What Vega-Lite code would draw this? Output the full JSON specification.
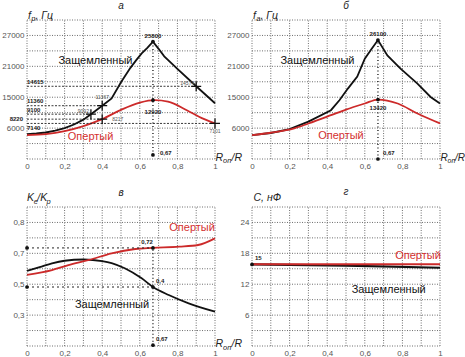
{
"$schema": "https://vega.github.io/schema/vega-lite/v6.json",
"padding": {"left": 1, "top": 1, "right": 0, "bottom": 0},
"config": {
  "font": "Liberation Sans",
  "view": {"stroke": null},
  "axis": {"grid": false, "domain": false, "ticks": false, "labelFont": "Liberation Sans", "labelFontSize": 8, "labelColor": "#555555", "labelOverlap": false, "labelFlush": false, "labelBound": false, "labelPadding": 3},
  "text": {"font": "Liberation Sans"}
},
"columns": 2,
"spacing": {"row": 48, "column": 37},
"bounds": "flush",
"datasets": {
  "one": [{}],
  "gx": [{"v": 0}, {"v": 0.1}, {"v": 0.2}, {"v": 0.3}, {"v": 0.4}, {"v": 0.5}, {"v": 0.6}, {"v": 0.7}, {"v": 0.8}, {"v": 0.9}, {"v": 1}],
  "gya": [{"v": 3000}, {"v": 6000}, {"v": 9000}, {"v": 12000}, {"v": 15000}, {"v": 18000}, {"v": 21000}, {"v": 24000}, {"v": 27000}, {"v": 30000}],
  "gyc": [{"v": 0}, {"v": 0.1}, {"v": 0.2}, {"v": 0.3}, {"v": 0.4}, {"v": 0.5}, {"v": 0.6}, {"v": 0.7}, {"v": 0.8}, {"v": 0.9}],
  "gyd": [{"v": 0}, {"v": 3}, {"v": 6}, {"v": 9}, {"v": 12}, {"v": 15}, {"v": 18}, {"v": 21}, {"v": 24}, {"v": 27}],
  "a_lines": [
    {"x": 0, "y": 7840, "s": "Защемленный"}, {"x": 0.05, "y": 7950, "s": "Защемленный"}, {"x": 0.1, "y": 8150, "s": "Защемленный"}, {"x": 0.15, "y": 8500, "s": "Защемленный"}, {"x": 0.2, "y": 9000, "s": "Защемленный"}, {"x": 0.25, "y": 9700, "s": "Защемленный"}, {"x": 0.3, "y": 10650, "s": "Защемленный"}, {"x": 0.34, "y": 11708, "s": "Защемленный"}, {"x": 0.4, "y": 13352, "s": "Защемленный"}, {"x": 0.45, "y": 14750, "s": "Защемленный"}, {"x": 0.5, "y": 17900, "s": "Защемленный"}, {"x": 0.55, "y": 20700, "s": "Защемленный"}, {"x": 0.58, "y": 22150, "s": "Защемленный"}, {"x": 0.61, "y": 23500, "s": "Защемленный"}, {"x": 0.64, "y": 24600, "s": "Защемленный"}, {"x": 0.67, "y": 25800, "s": "Защемленный"}, {"x": 0.7, "y": 24400, "s": "Защемленный"}, {"x": 0.73, "y": 22930, "s": "Защемленный"}, {"x": 0.8, "y": 20500, "s": "Защемленный"}, {"x": 0.9, "y": 17126, "s": "Защемленный"}, {"x": 1, "y": 13836, "s": "Защемленный"},
    {"x": 0, "y": 7640, "s": "Опертый"}, {"x": 0.1, "y": 7840, "s": "Опертый"}, {"x": 0.2, "y": 8420, "s": "Опертый"}, {"x": 0.3, "y": 9400, "s": "Опертый"}, {"x": 0.4, "y": 10740, "s": "Опертый"}, {"x": 0.5, "y": 12550, "s": "Опертый"}, {"x": 0.6, "y": 13950, "s": "Опертый"}, {"x": 0.68, "y": 14420, "s": "Опертый"}, {"x": 0.75, "y": 14130, "s": "Опертый"}, {"x": 0.85, "y": 12480, "s": "Опертый"}, {"x": 0.93, "y": 10930, "s": "Опертый"}, {"x": 1, "y": 9908, "s": "Опертый"}
  ],
  "a_hl": [
    {"x0": 0, "x1": 0.9, "y": 17126, "label": "14615"},
    {"x0": 0, "x1": 0.4, "y": 13352, "label": "11360"},
    {"x0": 0, "x1": 0.34, "y": 11708, "label": "9100"},
    {"x0": 0, "x1": 0.4, "y": 10740, "label": "8220"},
    {"x0": 0, "x1": 1, "y": 9908, "label": "7140"}
  ],
  "a_pm": [
    {"x": 0.34, "y": 11708, "label": "9092"},
    {"x": 0.4, "y": 13352, "label": "11367"},
    {"x": 0.4, "y": 10740, "label": "8217"},
    {"x": 0.9, "y": 17126, "label": "14574"},
    {"x": 1, "y": 9908, "label": "7101"}
  ],
  "a_pk": [
    {"x": 0.67, "y": 25800, "label": "25800"},
    {"x": 0.67, "y": 14420, "label": "12920"},
    {"x": 0.67, "y": 3800, "label": "0,67"}
  ],
  "a_vr": [{"x": 0.67, "y0": 3800, "y1": 25800}],
  "a_tx": [
    {"x": 0.364, "y": 21963, "s": "Защемленный"},
    {"x": 0.338, "y": 7315, "s": "Опертый"}
  ],
  "b_lines": [
    {"x": 0, "y": 7640, "s": "Защемленный"}, {"x": 0.1, "y": 8050, "s": "Защемленный"}, {"x": 0.2, "y": 8800, "s": "Защемленный"}, {"x": 0.3, "y": 10250, "s": "Защемленный"}, {"x": 0.42, "y": 12480, "s": "Защемленный"}, {"x": 0.465, "y": 14420, "s": "Защемленный"}, {"x": 0.51, "y": 16680, "s": "Защемленный"}, {"x": 0.56, "y": 19000, "s": "Защемленный"}, {"x": 0.6, "y": 22500, "s": "Защемленный"}, {"x": 0.633, "y": 24230, "s": "Защемленный"}, {"x": 0.67, "y": 26100, "s": "Защемленный"}, {"x": 0.72, "y": 23120, "s": "Защемленный"}, {"x": 0.79, "y": 20550, "s": "Защемленный"}, {"x": 0.88, "y": 17650, "s": "Защемленный"}, {"x": 0.95, "y": 15050, "s": "Защемленный"}, {"x": 1, "y": 13780, "s": "Защемленный"},
    {"x": 0, "y": 7640, "s": "Опертый"}, {"x": 0.1, "y": 8100, "s": "Опертый"}, {"x": 0.225, "y": 8940, "s": "Опертый"}, {"x": 0.3, "y": 9900, "s": "Опертый"}, {"x": 0.42, "y": 11510, "s": "Опертый"}, {"x": 0.5, "y": 12600, "s": "Опертый"}, {"x": 0.6, "y": 13780, "s": "Опертый"}, {"x": 0.67, "y": 14550, "s": "Опертый"}, {"x": 0.775, "y": 13780, "s": "Опертый"}, {"x": 0.88, "y": 11840, "s": "Опертый"}, {"x": 1, "y": 9908, "s": "Опертый"}
  ],
  "b_pk": [
    {"x": 0.67, "y": 26100, "label": "26100"},
    {"x": 0.67, "y": 14550, "label": "13420"},
    {"x": 0.67, "y": 3000, "label": "0,67"}
  ],
  "b_vr": [{"x": 0.67, "y0": 3000, "y1": 26100}],
  "b_tx": [
    {"x": 0.348, "y": 22021, "s": "Защемленный"},
    {"x": 0.473, "y": 7450, "s": "Опертый"}
  ],
  "c_lines": [
    {"x": 0, "y": 0.486, "s": "Защемленный"}, {"x": 0.067, "y": 0.51, "s": "Защемленный"}, {"x": 0.133, "y": 0.535, "s": "Защемленный"}, {"x": 0.2, "y": 0.552, "s": "Защемленный"}, {"x": 0.3, "y": 0.56, "s": "Защемленный"}, {"x": 0.4, "y": 0.55, "s": "Защемленный"}, {"x": 0.45, "y": 0.537, "s": "Защемленный"}, {"x": 0.52, "y": 0.503, "s": "Защемленный"}, {"x": 0.61, "y": 0.438, "s": "Защемленный"}, {"x": 0.67, "y": 0.382, "s": "Защемленный"}, {"x": 0.754, "y": 0.33, "s": "Защемленный"}, {"x": 0.86, "y": 0.276, "s": "Защемленный"}, {"x": 1, "y": 0.222, "s": "Защемленный"},
    {"x": 0, "y": 0.46, "s": "Опертый"}, {"x": 0.133, "y": 0.492, "s": "Опертый"}, {"x": 0.22, "y": 0.524, "s": "Опертый"}, {"x": 0.33, "y": 0.557, "s": "Опертый"}, {"x": 0.45, "y": 0.6, "s": "Опертый"}, {"x": 0.576, "y": 0.628, "s": "Опертый"}, {"x": 0.67, "y": 0.635, "s": "Опертый"}, {"x": 0.81, "y": 0.643, "s": "Опертый"}, {"x": 0.91, "y": 0.654, "s": "Опертый"}, {"x": 1, "y": 0.697, "s": "Опертый"}
  ],
  "c_hl": [
    {"x0": 0, "x1": 0.67, "y": 0.635},
    {"x0": 0, "x1": 0.67, "y": 0.382}
  ],
  "c_dots": [
    {"x": 0, "y": 0.635, "label": ""},
    {"x": 0.67, "y": 0.635, "label": "0,72"},
    {"x": 0, "y": 0.382, "label": ""},
    {"x": 0.67, "y": 0.382, "label": "0,4"},
    {"x": 0.67, "y": 0.005, "label": "0,67"}
  ],
  "c_vr": [{"x": 0.67, "y0": 0.005, "y1": 0.635}],
  "c_tx": [
    {"x": 0.878, "y": 0.762, "s": "Опертый"},
    {"x": 0.452, "y": 0.265, "s": "Защемленный"}
  ],
  "d_lines": [
    {"x": 0, "y": 15.85, "s": "Защемленный"}, {"x": 0.5, "y": 15.6, "s": "Защемленный"}, {"x": 1, "y": 15.2, "s": "Защемленный"},
    {"x": 0, "y": 15.9, "s": "Опертый"}, {"x": 1, "y": 15.9, "s": "Опертый"}
  ],
  "d_dot": [{"x": 0, "y": 15.85, "label": "15"}],
  "d_tx": [
    {"x": 0.883, "y": 17.48, "s": "Опертый"},
    {"x": 0.727, "y": 10.88, "s": "Защемленный"}
  ]
},
"concat": [
 {
  "width": 188, "height": 139,
  "layer": [
   {"data": {"name": "gx"},
    "mark": {"type": "rule", "color": "#6e6e6e", "strokeWidth": 1, "strokeDash": [1, 1.5]},
    "encoding": {"x": {"field": "v", "type": "quantitative", "scale": {"domain": [0, 1], "nice": false, "zero": false}, "axis": {"title": null, "grid": false, "labelOverlap": false, "tickCount": 20, "values": [0, 0.2, 0.4, 0.6, 0.8, 1], "labelExpr": "datum.value == 0 ? '0' : datum.value == 0.2 ? '0,2' : datum.value == 0.4 ? '0,4' : datum.value == 0.6 ? '0,6' : datum.value == 0.8 ? '0,8' : '1'"}}, "y": {"datum": 3000, "type": "quantitative"}, "y2": {"datum": 30000}}},
   {"data": {"name": "gya"},
    "mark": {"type": "rule", "color": "#6e6e6e", "strokeWidth": 1, "strokeDash": [1, 1.5]},
    "encoding": {"y": {"field": "v", "type": "quantitative", "scale": {"domain": [3000, 30000], "nice": false, "zero": false}, "axis": {"title": null, "grid": false, "labelOverlap": false, "tickCount": 20, "values": [9000, 15000, 21000, 27000], "labelExpr": "datum.value == 9000 ? '6000' : datum.value == 15000 ? '15000' : datum.value == 21000 ? '21000' : '27000'"}}, "x": {"datum": 0, "type": "quantitative"}, "x2": {"datum": 1}}},
   {"data": {"name": "a_lines"}, "transform": [{"filter": "datum.s == 'Защемленный'"}],
    "mark": {"type": "line", "color": "#111111", "strokeWidth": 1.8},
    "encoding": {"x": {"field": "x", "type": "quantitative"}, "y": {"field": "y", "type": "quantitative"}}},
   {"data": {"name": "a_lines"}, "transform": [{"filter": "datum.s == 'Опертый'"}],
    "mark": {"type": "line", "color": "#cc2a2a", "strokeWidth": 1.8, "interpolate": "monotone"},
    "encoding": {"x": {"field": "x", "type": "quantitative"}, "y": {"field": "y", "type": "quantitative"}}},
   {"data": {"name": "a_hl"},
    "mark": {"type": "rule", "color": "#222222", "strokeWidth": 0.9, "strokeDash": [2, 1.5]},
    "encoding": {"x": {"field": "x0", "type": "quantitative"}, "x2": {"field": "x1"}, "y": {"field": "y", "type": "quantitative"}}},
   {"data": {"name": "a_hl"}, "transform": [{"filter": "indexof(['14615','11360','9100'], datum.label) >= 0"}],
    "mark": {"type": "text", "align": "left", "baseline": "middle", "fontSize": 6, "fontWeight": "bold", "color": "#222222", "dy": -4.5},
    "encoding": {"x": {"field": "x0", "type": "quantitative"}, "y": {"field": "y", "type": "quantitative"}, "text": {"field": "label"}}},
   {"data": {"name": "a_hl"}, "transform": [{"filter": "datum.label == '8220'"}],
    "mark": {"type": "text", "align": "right", "baseline": "middle", "fontSize": 6, "fontWeight": "bold", "color": "#222222", "dx": -4},
    "encoding": {"x": {"field": "x0", "type": "quantitative"}, "y": {"field": "y", "type": "quantitative"}, "text": {"field": "label"}}},
   {"data": {"name": "a_hl"}, "transform": [{"filter": "datum.label == '7140'"}],
    "mark": {"type": "text", "align": "left", "baseline": "middle", "fontSize": 6, "fontWeight": "bold", "color": "#222222", "dy": 4.5},
    "encoding": {"x": {"field": "x0", "type": "quantitative"}, "y": {"field": "y", "type": "quantitative"}, "text": {"field": "label"}}},
   {"data": {"name": "a_pm"},
    "mark": {"type": "point", "shape": "M-1,0H1M0,-1V1", "filled": false, "color": "#111111", "strokeWidth": 1.3, "size": 100, "opacity": 1},
    "encoding": {"x": {"field": "x", "type": "quantitative"}, "y": {"field": "y", "type": "quantitative"}}},
   {"data": {"name": "a_pm"}, "transform": [{"filter": "datum.label == '11367'"}],
    "mark": {"type": "text", "align": "center", "baseline": "middle", "fontSize": 5, "color": "#555555", "dy": -9},
    "encoding": {"x": {"field": "x", "type": "quantitative"}, "y": {"field": "y", "type": "quantitative"}, "text": {"field": "label"}}},
   {"data": {"name": "a_pm"}, "transform": [{"filter": "datum.label == '9092' || datum.label == '14574'"}],
    "mark": {"type": "text", "align": "right", "baseline": "middle", "fontSize": 5, "color": "#555555", "dx": -2, "dy": -3.5},
    "encoding": {"x": {"field": "x", "type": "quantitative"}, "y": {"field": "y", "type": "quantitative"}, "text": {"field": "label"}}},
   {"data": {"name": "a_pm"}, "transform": [{"filter": "datum.label == '8217'"}],
    "mark": {"type": "text", "align": "left", "baseline": "middle", "fontSize": 5, "color": "#555555", "dx": 10},
    "encoding": {"x": {"field": "x", "type": "quantitative"}, "y": {"field": "y", "type": "quantitative"}, "text": {"field": "label"}}},
   {"data": {"name": "a_pm"}, "transform": [{"filter": "datum.label == '7101'"}],
    "mark": {"type": "text", "align": "center", "baseline": "middle", "fontSize": 5, "color": "#555555", "dy": 8},
    "encoding": {"x": {"field": "x", "type": "quantitative"}, "y": {"field": "y", "type": "quantitative"}, "text": {"field": "label"}}},
   {"data": {"name": "a_vr"},
    "mark": {"type": "rule", "color": "#111111", "strokeWidth": 1.3, "strokeDash": [1, 2.5]},
    "encoding": {"x": {"field": "x", "type": "quantitative"}, "y": {"field": "y0", "type": "quantitative"}, "y2": {"field": "y1"}}},
   {"data": {"name": "a_pk"},
    "mark": {"type": "circle", "color": "#111111", "size": 14, "opacity": 1},
    "encoding": {"x": {"field": "x", "type": "quantitative"}, "y": {"field": "y", "type": "quantitative"}}},
   {"data": {"name": "a_pk"}, "transform": [{"filter": "datum.label == '25800'"}],
    "mark": {"type": "text", "align": "center", "baseline": "middle", "fontSize": 6, "fontWeight": "bold", "color": "#222222", "dy": -5.5},
    "encoding": {"x": {"field": "x", "type": "quantitative"}, "y": {"field": "y", "type": "quantitative"}, "text": {"field": "label"}}},
   {"data": {"name": "a_pk"}, "transform": [{"filter": "datum.label == '12920'"}],
    "mark": {"type": "text", "align": "center", "baseline": "middle", "fontSize": 6, "fontWeight": "bold", "color": "#222222", "dy": 12},
    "encoding": {"x": {"field": "x", "type": "quantitative"}, "y": {"field": "y", "type": "quantitative"}, "text": {"field": "label"}}},
   {"data": {"name": "a_pk"}, "transform": [{"filter": "datum.label == '0,67'"}],
    "mark": {"type": "text", "align": "left", "baseline": "middle", "fontSize": 6, "fontWeight": "bold", "color": "#222222", "dx": 7, "dy": -1.5},
    "encoding": {"x": {"field": "x", "type": "quantitative"}, "y": {"field": "y", "type": "quantitative"}, "text": {"field": "label"}}},
   {"data": {"name": "a_tx"},
    "mark": {"type": "text", "align": "center", "baseline": "middle", "fontSize": 11},
    "encoding": {"x": {"field": "x", "type": "quantitative"}, "y": {"field": "y", "type": "quantitative"}, "text": {"field": "s"}, "color": {"field": "s", "type": "nominal", "scale": {"domain": ["Защемленный", "Опертый"], "range": ["#111111", "#d43030"]}, "legend": null}}},
   {"data": {"name": "one"}, "mark": {"type": "text", "text": "а", "fontStyle": "italic", "fontSize": 10, "align": "center", "baseline": "alphabetic", "dy": -11, "color": "#222222"},
    "encoding": {"x": {"datum": 0.5, "type": "quantitative"}, "y": {"datum": 30000, "type": "quantitative"}}},
   {"data": {"name": "one"}, "mark": {"type": "text", "text": "f", "fontStyle": "italic", "fontSize": 10.5, "align": "left", "baseline": "alphabetic", "dx": 1, "dy": -1.5, "color": "#222222"},
    "encoding": {"x": {"datum": 0, "type": "quantitative"}, "y": {"datum": 30000, "type": "quantitative"}}},
   {"data": {"name": "one"}, "mark": {"type": "text", "text": "р", "fontStyle": "italic", "fontSize": 7.5, "align": "left", "baseline": "alphabetic", "dx": 4.3, "dy": 1, "color": "#222222"},
    "encoding": {"x": {"datum": 0, "type": "quantitative"}, "y": {"datum": 30000, "type": "quantitative"}}},
   {"data": {"name": "one"}, "mark": {"type": "text", "text": ", Гц", "fontStyle": "italic", "fontSize": 10.5, "align": "left", "baseline": "alphabetic", "dx": 8.5, "dy": -1.5, "color": "#222222"},
    "encoding": {"x": {"datum": 0, "type": "quantitative"}, "y": {"datum": 30000, "type": "quantitative"}}},
   {"data": {"name": "one"}, "mark": {"type": "text", "text": "R", "fontStyle": "italic", "fontSize": 10.5, "align": "left", "baseline": "alphabetic", "dx": 0.5, "dy": 1.5, "color": "#222222"},
    "encoding": {"x": {"datum": 1, "type": "quantitative"}, "y": {"datum": 3000, "type": "quantitative"}}},
   {"data": {"name": "one"}, "mark": {"type": "text", "text": "оп", "fontStyle": "italic", "fontSize": 7.5, "align": "left", "baseline": "alphabetic", "dx": 8, "dy": 4, "color": "#222222"},
    "encoding": {"x": {"datum": 1, "type": "quantitative"}, "y": {"datum": 3000, "type": "quantitative"}}},
   {"data": {"name": "one"}, "mark": {"type": "text", "text": "/R", "fontStyle": "italic", "fontSize": 10.5, "align": "left", "baseline": "alphabetic", "dx": 16.5, "dy": 1.5, "color": "#222222"},
    "encoding": {"x": {"datum": 1, "type": "quantitative"}, "y": {"datum": 3000, "type": "quantitative"}}}
  ]
 },
 {
  "width": 188, "height": 139,
  "layer": [
   {"data": {"name": "gx"},
    "mark": {"type": "rule", "color": "#6e6e6e", "strokeWidth": 1, "strokeDash": [1, 1.5]},
    "encoding": {"x": {"field": "v", "type": "quantitative", "scale": {"domain": [0, 1], "nice": false, "zero": false}, "axis": {"title": null, "grid": false, "labelOverlap": false, "tickCount": 20, "values": [0, 0.2, 0.4, 0.6, 0.8, 1], "labelExpr": "datum.value == 0 ? '0' : datum.value == 0.2 ? '0,2' : datum.value == 0.4 ? '0,4' : datum.value == 0.6 ? '0,6' : datum.value == 0.8 ? '0,8' : '1'"}}, "y": {"datum": 3000, "type": "quantitative"}, "y2": {"datum": 30000}}},
   {"data": {"name": "gya"},
    "mark": {"type": "rule", "color": "#6e6e6e", "strokeWidth": 1, "strokeDash": [1, 1.5]},
    "encoding": {"y": {"field": "v", "type": "quantitative", "scale": {"domain": [3000, 30000], "nice": false, "zero": false}, "axis": {"title": null, "grid": false, "labelOverlap": false, "tickCount": 20, "values": [9000, 15000, 21000, 27000], "labelExpr": "datum.value == 9000 ? '6000' : datum.value == 15000 ? '15000' : datum.value == 21000 ? '21000' : '27000'"}}, "x": {"datum": 0, "type": "quantitative"}, "x2": {"datum": 1}}},
   {"data": {"name": "b_lines"}, "transform": [{"filter": "datum.s == 'Защемленный'"}],
    "mark": {"type": "line", "color": "#111111", "strokeWidth": 1.8},
    "encoding": {"x": {"field": "x", "type": "quantitative"}, "y": {"field": "y", "type": "quantitative"}}},
   {"data": {"name": "b_lines"}, "transform": [{"filter": "datum.s == 'Опертый'"}],
    "mark": {"type": "line", "color": "#cc2a2a", "strokeWidth": 1.8, "interpolate": "monotone"},
    "encoding": {"x": {"field": "x", "type": "quantitative"}, "y": {"field": "y", "type": "quantitative"}}},
   {"data": {"name": "b_vr"},
    "mark": {"type": "rule", "color": "#111111", "strokeWidth": 1.3, "strokeDash": [1, 2.5]},
    "encoding": {"x": {"field": "x", "type": "quantitative"}, "y": {"field": "y0", "type": "quantitative"}, "y2": {"field": "y1"}}},
   {"data": {"name": "b_pk"},
    "mark": {"type": "circle", "color": "#111111", "size": 14, "opacity": 1},
    "encoding": {"x": {"field": "x", "type": "quantitative"}, "y": {"field": "y", "type": "quantitative"}}},
   {"data": {"name": "b_pk"}, "transform": [{"filter": "datum.label == '26100'"}],
    "mark": {"type": "text", "align": "center", "baseline": "middle", "fontSize": 6, "fontWeight": "bold", "color": "#222222", "dy": -6},
    "encoding": {"x": {"field": "x", "type": "quantitative"}, "y": {"field": "y", "type": "quantitative"}, "text": {"field": "label"}}},
   {"data": {"name": "b_pk"}, "transform": [{"filter": "datum.label == '13420'"}],
    "mark": {"type": "text", "align": "center", "baseline": "middle", "fontSize": 6, "fontWeight": "bold", "color": "#222222", "dy": 8},
    "encoding": {"x": {"field": "x", "type": "quantitative"}, "y": {"field": "y", "type": "quantitative"}, "text": {"field": "label"}}},
   {"data": {"name": "b_pk"}, "transform": [{"filter": "datum.label == '0,67'"}],
    "mark": {"type": "text", "align": "left", "baseline": "middle", "fontSize": 6, "fontWeight": "bold", "color": "#222222", "dx": 5, "dy": -6.5},
    "encoding": {"x": {"field": "x", "type": "quantitative"}, "y": {"field": "y", "type": "quantitative"}, "text": {"field": "label"}}},
   {"data": {"name": "b_tx"},
    "mark": {"type": "text", "align": "center", "baseline": "middle", "fontSize": 11},
    "encoding": {"x": {"field": "x", "type": "quantitative"}, "y": {"field": "y", "type": "quantitative"}, "text": {"field": "s"}, "color": {"field": "s", "type": "nominal", "scale": {"domain": ["Защемленный", "Опертый"], "range": ["#111111", "#d43030"]}, "legend": null}}},
   {"data": {"name": "one"}, "mark": {"type": "text", "text": "б", "fontStyle": "italic", "fontSize": 10, "align": "center", "baseline": "alphabetic", "dy": -11, "color": "#222222"},
    "encoding": {"x": {"datum": 0.5, "type": "quantitative"}, "y": {"datum": 30000, "type": "quantitative"}}},
   {"data": {"name": "one"}, "mark": {"type": "text", "text": "f", "fontStyle": "italic", "fontSize": 10.5, "align": "left", "baseline": "alphabetic", "dx": 1, "dy": -1.5, "color": "#222222"},
    "encoding": {"x": {"datum": 0, "type": "quantitative"}, "y": {"datum": 30000, "type": "quantitative"}}},
   {"data": {"name": "one"}, "mark": {"type": "text", "text": "а", "fontStyle": "italic", "fontSize": 7.5, "align": "left", "baseline": "alphabetic", "dx": 4.3, "dy": 1, "color": "#222222"},
    "encoding": {"x": {"datum": 0, "type": "quantitative"}, "y": {"datum": 30000, "type": "quantitative"}}},
   {"data": {"name": "one"}, "mark": {"type": "text", "text": ", Гц", "fontStyle": "italic", "fontSize": 10.5, "align": "left", "baseline": "alphabetic", "dx": 8.5, "dy": -1.5, "color": "#222222"},
    "encoding": {"x": {"datum": 0, "type": "quantitative"}, "y": {"datum": 30000, "type": "quantitative"}}},
   {"data": {"name": "one"}, "mark": {"type": "text", "text": "R", "fontStyle": "italic", "fontSize": 10, "align": "left", "baseline": "alphabetic", "dx": 0.5, "dy": 1.5, "color": "#222222"},
    "encoding": {"x": {"datum": 1, "type": "quantitative"}, "y": {"datum": 3000, "type": "quantitative"}}},
   {"data": {"name": "one"}, "mark": {"type": "text", "text": "оп", "fontStyle": "italic", "fontSize": 7, "align": "left", "baseline": "alphabetic", "dx": 7.5, "dy": 4, "color": "#222222"},
    "encoding": {"x": {"datum": 1, "type": "quantitative"}, "y": {"datum": 3000, "type": "quantitative"}}},
   {"data": {"name": "one"}, "mark": {"type": "text", "text": "/R", "fontStyle": "italic", "fontSize": 10, "align": "left", "baseline": "alphabetic", "dx": 15, "dy": 1.5, "color": "#222222"},
    "encoding": {"x": {"datum": 1, "type": "quantitative"}, "y": {"datum": 3000, "type": "quantitative"}}}
  ]
 },
 {
  "width": 188, "height": 139,
  "layer": [
   {"data": {"name": "gx"},
    "mark": {"type": "rule", "color": "#6e6e6e", "strokeWidth": 1, "strokeDash": [1, 1.5]},
    "encoding": {"x": {"field": "v", "type": "quantitative", "scale": {"domain": [0, 1], "nice": false, "zero": false}, "axis": {"title": null, "grid": false, "labelOverlap": false, "tickCount": 20, "values": [0, 0.2, 0.4, 0.6, 0.8, 1], "labelExpr": "datum.value == 0 ? '0' : datum.value == 0.2 ? '0,2' : datum.value == 0.4 ? '0,4' : datum.value == 0.6 ? '0,6' : datum.value == 0.8 ? '0,8' : '1'"}}, "y": {"datum": 0, "type": "quantitative"}, "y2": {"datum": 0.9}}},
   {"data": {"name": "gyc"},
    "mark": {"type": "rule", "color": "#6e6e6e", "strokeWidth": 1, "strokeDash": [1, 1.5]},
    "encoding": {"y": {"field": "v", "type": "quantitative", "scale": {"domain": [0, 0.9], "nice": false, "zero": false}, "axis": {"title": null, "grid": false, "labelOverlap": false, "tickCount": 20, "values": [0.2, 0.4, 0.6, 0.8], "labelExpr": "datum.value == 0.8 ? '0,8' : datum.value == 0.6 ? '0,7' : datum.value == 0.4 ? '0,5' : '0,3'"}}, "x": {"datum": 0, "type": "quantitative"}, "x2": {"datum": 1}}},
   {"data": {"name": "c_lines"}, "transform": [{"filter": "datum.s == 'Защемленный'"}],
    "mark": {"type": "line", "color": "#111111", "strokeWidth": 1.8, "interpolate": "monotone"},
    "encoding": {"x": {"field": "x", "type": "quantitative"}, "y": {"field": "y", "type": "quantitative"}}},
   {"data": {"name": "c_lines"}, "transform": [{"filter": "datum.s == 'Опертый'"}],
    "mark": {"type": "line", "color": "#cc2a2a", "strokeWidth": 1.8, "interpolate": "monotone"},
    "encoding": {"x": {"field": "x", "type": "quantitative"}, "y": {"field": "y", "type": "quantitative"}}},
   {"data": {"name": "c_hl"},
    "mark": {"type": "rule", "color": "#222222", "strokeWidth": 1, "strokeDash": [2, 3]},
    "encoding": {"x": {"field": "x0", "type": "quantitative"}, "x2": {"field": "x1"}, "y": {"field": "y", "type": "quantitative"}}},
   {"data": {"name": "c_vr"},
    "mark": {"type": "rule", "color": "#111111", "strokeWidth": 1.3, "strokeDash": [1, 2.5]},
    "encoding": {"x": {"field": "x", "type": "quantitative"}, "y": {"field": "y0", "type": "quantitative"}, "y2": {"field": "y1"}}},
   {"data": {"name": "c_dots"},
    "mark": {"type": "circle", "color": "#111111", "size": 14, "opacity": 1},
    "encoding": {"x": {"field": "x", "type": "quantitative"}, "y": {"field": "y", "type": "quantitative"}}},
   {"data": {"name": "c_dots"}, "transform": [{"filter": "datum.label == '0,72'"}],
    "mark": {"type": "text", "align": "right", "baseline": "middle", "fontSize": 6, "fontWeight": "bold", "color": "#222222", "dy": -6},
    "encoding": {"x": {"field": "x", "type": "quantitative"}, "y": {"field": "y", "type": "quantitative"}, "text": {"field": "label"}}},
   {"data": {"name": "c_dots"}, "transform": [{"filter": "datum.label == '0,4' || datum.label == '0,67'"}],
    "mark": {"type": "text", "align": "left", "baseline": "middle", "fontSize": 6, "fontWeight": "bold", "color": "#222222", "dx": 3, "dy": -6},
    "encoding": {"x": {"field": "x", "type": "quantitative"}, "y": {"field": "y", "type": "quantitative"}, "text": {"field": "label"}}},
   {"data": {"name": "c_tx"},
    "mark": {"type": "text", "align": "center", "baseline": "middle", "fontSize": 11},
    "encoding": {"x": {"field": "x", "type": "quantitative"}, "y": {"field": "y", "type": "quantitative"}, "text": {"field": "s"}, "color": {"field": "s", "type": "nominal", "scale": {"domain": ["Защемленный", "Опертый"], "range": ["#111111", "#d43030"]}, "legend": null}}},
   {"data": {"name": "one"}, "mark": {"type": "text", "text": "в", "fontStyle": "italic", "fontSize": 10, "align": "center", "baseline": "alphabetic", "dy": -11, "color": "#222222"},
    "encoding": {"x": {"datum": 0.5, "type": "quantitative"}, "y": {"datum": 0.9, "type": "quantitative"}}},
   {"data": {"name": "one"}, "mark": {"type": "text", "text": "K", "fontStyle": "italic", "fontSize": 10.5, "align": "left", "baseline": "alphabetic", "dy": -6, "color": "#222222"},
    "encoding": {"x": {"datum": 0, "type": "quantitative"}, "y": {"datum": 0.9, "type": "quantitative"}}},
   {"data": {"name": "one"}, "mark": {"type": "text", "text": "е", "fontStyle": "italic", "fontSize": 7.5, "align": "left", "baseline": "alphabetic", "dx": 6.8, "dy": -3.5, "color": "#222222"},
    "encoding": {"x": {"datum": 0, "type": "quantitative"}, "y": {"datum": 0.9, "type": "quantitative"}}},
   {"data": {"name": "one"}, "mark": {"type": "text", "text": "/K", "fontStyle": "italic", "fontSize": 10.5, "align": "left", "baseline": "alphabetic", "dx": 10.3, "dy": -6, "color": "#222222"},
    "encoding": {"x": {"datum": 0, "type": "quantitative"}, "y": {"datum": 0.9, "type": "quantitative"}}},
   {"data": {"name": "one"}, "mark": {"type": "text", "text": "р", "fontStyle": "italic", "fontSize": 7.5, "align": "left", "baseline": "alphabetic", "dx": 19.6, "dy": -3.5, "color": "#222222"},
    "encoding": {"x": {"datum": 0, "type": "quantitative"}, "y": {"datum": 0.9, "type": "quantitative"}}},
   {"data": {"name": "one"}, "mark": {"type": "text", "text": "R", "fontStyle": "italic", "fontSize": 10.5, "align": "left", "baseline": "alphabetic", "dx": 0.5, "dy": 1, "color": "#222222"},
    "encoding": {"x": {"datum": 1, "type": "quantitative"}, "y": {"datum": 0, "type": "quantitative"}}},
   {"data": {"name": "one"}, "mark": {"type": "text", "text": "оп", "fontStyle": "italic", "fontSize": 7.5, "align": "left", "baseline": "alphabetic", "dx": 8, "dy": 3.5, "color": "#222222"},
    "encoding": {"x": {"datum": 1, "type": "quantitative"}, "y": {"datum": 0, "type": "quantitative"}}},
   {"data": {"name": "one"}, "mark": {"type": "text", "text": "/R", "fontStyle": "italic", "fontSize": 10.5, "align": "left", "baseline": "alphabetic", "dx": 16.5, "dy": 1, "color": "#222222"},
    "encoding": {"x": {"datum": 1, "type": "quantitative"}, "y": {"datum": 0, "type": "quantitative"}}}
  ]
 },
 {
  "width": 188, "height": 139,
  "layer": [
   {"data": {"name": "gx"},
    "mark": {"type": "rule", "color": "#6e6e6e", "strokeWidth": 1, "strokeDash": [1, 1.5]},
    "encoding": {"x": {"field": "v", "type": "quantitative", "scale": {"domain": [0, 1], "nice": false, "zero": false}, "axis": {"title": null, "grid": false, "labelOverlap": false, "tickCount": 20, "values": [0, 0.2, 0.4, 0.6, 0.8, 1], "labelExpr": "datum.value == 0 ? '0' : datum.value == 0.2 ? '0,2' : datum.value == 0.4 ? '0,4' : datum.value == 0.6 ? '0,6' : datum.value == 0.8 ? '0,8' : '1'"}}, "y": {"datum": 0, "type": "quantitative"}, "y2": {"datum": 27}}},
   {"data": {"name": "gyd"},
    "mark": {"type": "rule", "color": "#6e6e6e", "strokeWidth": 1, "strokeDash": [1, 1.5]},
    "encoding": {"y": {"field": "v", "type": "quantitative", "scale": {"domain": [0, 27], "nice": false, "zero": false}, "axis": {"title": null, "grid": false, "labelOverlap": false, "tickCount": 20, "values": [6, 12, 18, 24], "labelExpr": "datum.value == 6 ? '6' : datum.value == 12 ? '12' : datum.value == 18 ? '18' : '24'"}}, "x": {"datum": 0, "type": "quantitative"}, "x2": {"datum": 1}}},
   {"data": {"name": "d_lines"}, "transform": [{"filter": "datum.s == 'Защемленный'"}],
    "mark": {"type": "line", "color": "#111111", "strokeWidth": 2.2},
    "encoding": {"x": {"field": "x", "type": "quantitative"}, "y": {"field": "y", "type": "quantitative"}}},
   {"data": {"name": "d_lines"}, "transform": [{"filter": "datum.s == 'Опертый'"}],
    "mark": {"type": "line", "color": "#cc2a2a", "strokeWidth": 2},
    "encoding": {"x": {"field": "x", "type": "quantitative"}, "y": {"field": "y", "type": "quantitative"}}},
   {"data": {"name": "d_dot"},
    "mark": {"type": "circle", "color": "#111111", "size": 14, "opacity": 1},
    "encoding": {"x": {"field": "x", "type": "quantitative"}, "y": {"field": "y", "type": "quantitative"}}},
   {"data": {"name": "d_dot"},
    "mark": {"type": "text", "align": "left", "baseline": "middle", "fontSize": 6, "fontWeight": "bold", "color": "#222222", "dx": 3, "dy": -6.5},
    "encoding": {"x": {"field": "x", "type": "quantitative"}, "y": {"field": "y", "type": "quantitative"}, "text": {"field": "label"}}},
   {"data": {"name": "d_tx"},
    "mark": {"type": "text", "align": "center", "baseline": "middle", "fontSize": 11},
    "encoding": {"x": {"field": "x", "type": "quantitative"}, "y": {"field": "y", "type": "quantitative"}, "text": {"field": "s"}, "color": {"field": "s", "type": "nominal", "scale": {"domain": ["Защемленный", "Опертый"], "range": ["#111111", "#d43030"]}, "legend": null}}},
   {"data": {"name": "one"}, "mark": {"type": "text", "text": "г", "fontStyle": "italic", "fontSize": 10, "align": "center", "baseline": "alphabetic", "dy": -12, "color": "#222222"},
    "encoding": {"x": {"datum": 0.5, "type": "quantitative"}, "y": {"datum": 27, "type": "quantitative"}}},
   {"data": {"name": "one"}, "mark": {"type": "text", "text": "C, нФ", "fontStyle": "italic", "fontSize": 10.5, "align": "left", "baseline": "alphabetic", "dx": 1.5, "dy": -6, "color": "#222222"},
    "encoding": {"x": {"datum": 0, "type": "quantitative"}, "y": {"datum": 27, "type": "quantitative"}}}
  ]
 }
]
}
